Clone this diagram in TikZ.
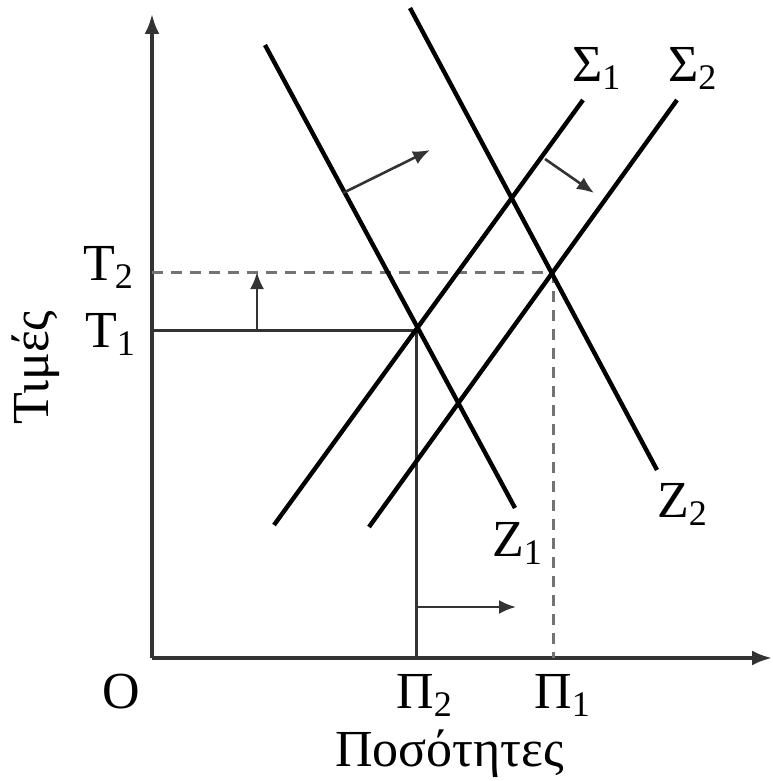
\documentclass[tikz,border=0pt]{standalone}
\usepackage{fontspec}
\setmainfont{Liberation Serif}
\usetikzlibrary{arrows.meta}
\newcommand{\lbsub}[2]{#1\raisebox{-8pt}{\fontsize{36}{36}\selectfont #2}}
\tikzset{
  curve/.style={line width=4.4pt, black},
  axis/.style={line width=3.4pt, black!80, -{Latex[length=20pt,width=15pt]}},
  guide/.style={line width=3pt, black!80},
  guidedash/.style={line width=3pt, black!55, dash pattern=on 11pt off 8pt},
  shift arrow/.style={line width=2.6pt, black!80, -{Latex[length=17pt,width=14pt]}},
  lab/.style={inner sep=0pt, anchor=base west, font=\fontsize{52}{60}\selectfont}
}
\begin{document}
\begin{tikzpicture}[x=1pt,y=-1pt]
\useasboundingbox (0,0) rectangle (772,781);
% axes
\coordinate (O) at (152,658);
\coordinate (ytop) at (152,14);
\coordinate (xend) at (772,658);
\draw[axis] (O) -- (ytop);
\draw[axis] (O) -- (xend);
% key points
\coordinate (E1) at (416,330);
\coordinate (E2) at (553,272);
\coordinate (T1) at (152,330);
\coordinate (T2) at (152,272);
\coordinate (P2) at (416,658);
\coordinate (P1) at (553,658);
% guides
\draw[guide] (T1) -- (E1) -- (P2);
\draw[guidedash] (T2) -- (E2);
\draw[guidedash] (E2) -- (P1);
% curves
\coordinate (Z1a) at (265,45);
\coordinate (Z1b) at (515,508);
\coordinate (Z2a) at (410,8);
\coordinate (Z2b) at (657,470);
\coordinate (S1a) at (274,525);
\coordinate (S1b) at (583,100);
\coordinate (S2a) at (369,527);
\coordinate (S2b) at (677,100);
\draw[curve] (Z1a) -- (Z1b);
\draw[curve] (Z2a) -- (Z2b);
\draw[curve] (S1a) -- (S1b);
\draw[curve] (S2a) -- (S2b);
% shift arrows
\coordinate (A1s) at (257,330);
\coordinate (A1e) at (257,272);
\coordinate (A2s) at (416,607);
\coordinate (A2e) at (516,607);
\coordinate (A3s) at (343,193);
\coordinate (A3e) at (430,150);
\coordinate (A4s) at (545,159);
\coordinate (A4e) at (594,193);
\draw[shift arrow] (A1s) -- (A1e);
\draw[shift arrow] (A2s) -- (A2e);
\draw[shift arrow] (A3s) -- (A3e);
\draw[shift arrow] (A4s) -- (A4e);
% labels
\node[lab] (lT2) at (83,280) {\lbsub{Τ}{2}};
\node[lab] (lT1) at (85,347) {\lbsub{Τ}{1}};
\node[lab] (lS1) at (572,82) {\lbsub{Σ}{1}};
\node[lab] (lS2) at (668,82) {\lbsub{Σ}{2}};
\node[lab] (lZ1) at (492,556) {\lbsub{Ζ}{1}};
\node[lab] (lZ2) at (657,517) {\lbsub{Ζ}{2}};
\node[lab] (lP2) at (396,708) {\lbsub{Π}{2}};
\node[lab] (lP1) at (534,708) {\lbsub{Π}{1}};
\node[lab] (lO) at (102,708) {Ο};
\node[lab] (lx) at (335,766) {Ποσότητες};
\node[lab, rotate=90] (ly) at (48,425) {Τιμές};
\end{tikzpicture}
\end{document}
